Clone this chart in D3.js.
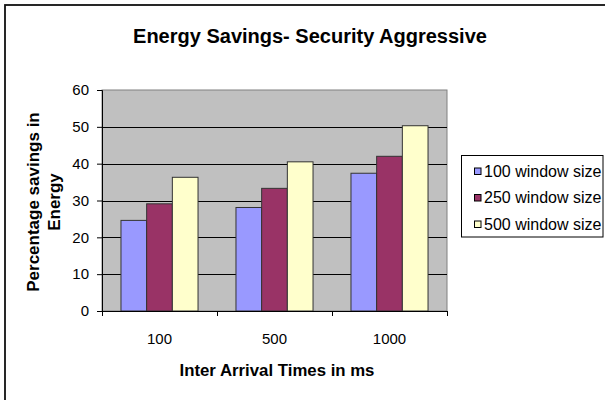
<!DOCTYPE html>
<html>
<head>
<meta charset="utf-8">
<script src="https://cdn.jsdelivr.net/npm/d3@7"></script>
<style>
  html, body { margin: 0; padding: 0; background: #fff; }
  svg { display: block; font-family: "Liberation Sans", Arial, sans-serif; }
</style>
</head>
<body>
<svg id="chart" width="605" height="400"></svg>
<script>
// Inter-arrival time categories (ms)
const categories = ["100", "500", "1000"];
// Series names
const seriesNames = ["100 window size", "250 window size", "500 window size"];
// Percentage savings per series, one value per category
const win100 = [24.6, 28.1, 37.4];
const win250 = [29.1, 33.3, 42.0];
const win500 = [36.3, 40.5, 50.3];
const seriesValues = [win100, win250, win500];
const yTicks = [0, 10, 20, 30, 40, 50, 60];
const colors = ["#9999FF", "#993366", "#FFFFCC"];

const svg = d3.select("#chart");

// Outer frame
svg.append("rect")
  .attr("x", 5).attr("y", 5)
  .attr("width", 620).attr("height", 420)
  .attr("fill", "#fff").attr("stroke", "#111").attr("stroke-width", 1.8);

const plot = { left: 102, right: 447, top: 90, bottom: 311 };

const x0 = d3.scaleBand()
  .domain(categories)
  .range([plot.left, plot.right])
  .paddingInner(0.33)
  .paddingOuter(0.165);

const x1 = d3.scaleBand()
  .domain(d3.range(seriesNames.length))
  .range([0, x0.bandwidth()]);

const y = d3.scaleLinear().domain([0, 60]).range([plot.bottom, plot.top]);

// Plot area background
svg.append("rect")
  .attr("x", plot.left).attr("y", plot.top)
  .attr("width", plot.right - plot.left).attr("height", plot.bottom - plot.top)
  .attr("fill", "#C0C0C0").attr("stroke", "#808080").attr("stroke-width", 1);

// Gridlines
svg.append("g").selectAll("line")
  .data(yTicks.filter(d => d > 0 && d < 60))
  .join("line")
  .attr("x1", plot.left).attr("x2", plot.right)
  .attr("y1", d => Math.round(y(d)) + 0.5).attr("y2", d => Math.round(y(d)) + 0.5)
  .attr("stroke", "#000").attr("stroke-width", 1);

// Bars
const groups = svg.append("g").selectAll("g")
  .data(categories)
  .join("g")
  .attr("transform", c => `translate(${x0(c)},0)`);

groups.selectAll("rect")
  .data((c, ci) => seriesValues.map((vals, si) => ({ si, v: vals[ci] })))
  .join("rect")
  .attr("x", d => x1(d.si))
  .attr("y", d => y(d.v))
  .attr("width", x1.bandwidth())
  .attr("height", d => y(0) - y(d.v))
  .attr("fill", d => colors[d.si])
  .attr("stroke", "#333").attr("stroke-width", 1);

// Y axis
const yAxis = svg.append("g")
  .attr("transform", `translate(${plot.left},0)`)
  .call(d3.axisLeft(y).tickValues(yTicks).tickSize(5).tickPadding(8));
yAxis.select(".domain").attr("stroke", "#000");
yAxis.selectAll(".tick line").attr("stroke", "#000");
yAxis.selectAll("text")
  .attr("font-size", 15).attr("fill", "#000")
  .attr("font-family", "Liberation Sans, Arial, sans-serif");

// X axis line with ticks at category boundaries
const xBound = d3.scaleLinear().domain([0, categories.length]).range([plot.left, plot.right]);
const xAxis = svg.append("g")
  .attr("transform", `translate(0,${plot.bottom})`)
  .call(d3.axisBottom(xBound).ticks(categories.length).tickSize(5).tickFormat(""));
xAxis.select(".domain").attr("stroke", "#000");
xAxis.selectAll(".tick line").attr("stroke", "#000");

// Category labels
svg.append("g").selectAll("text")
  .data(categories)
  .join("text")
  .attr("x", c => x0(c) + x0.bandwidth() / 2)
  .attr("y", 343.5)
  .attr("text-anchor", "middle")
  .attr("font-size", 15)
  .text(c => c);

// Title
svg.append("text")
  .attr("x", 310).attr("y", 43)
  .attr("text-anchor", "middle")
  .attr("font-size", 20).attr("font-weight", "bold")
  .text("Energy Savings- Security Aggressive");

// X axis title
svg.append("text")
  .attr("x", 277).attr("y", 376)
  .attr("text-anchor", "middle")
  .attr("font-size", 16.8).attr("font-weight", "bold")
  .text("Inter Arrival Times in ms");

// Y axis title (two lines)
const yTitle = svg.append("text")
  .attr("transform", "translate(38.5,202) rotate(-90)")
  .attr("text-anchor", "middle")
  .attr("font-size", 17).attr("font-weight", "bold");
yTitle.append("tspan").attr("x", 0).attr("dy", 0).text("Percentage savings in");
yTitle.append("tspan").attr("x", 0).attr("dy", 21.5).text("Energy");

// Legend
const legend = svg.append("g");
legend.append("rect")
  .attr("x", 461.5).attr("y", 155.5)
  .attr("width", 141.5).attr("height", 81.5)
  .attr("fill", "#fff").attr("stroke", "#000").attr("stroke-width", 1);
const items = legend.selectAll("g.item")
  .data(seriesNames)
  .join("g")
  .attr("class", "item")
  .attr("transform", (d, i) => `translate(474,${171 + i * 26.5})`);
items.append("rect")
  .attr("x", 0.5).attr("y", -3)
  .attr("width", 6.5).attr("height", 6.5)
  .attr("fill", (d, i) => colors[i]).attr("stroke", "#000").attr("stroke-width", 1);
items.append("text")
  .attr("x", 10).attr("y", 5.8)
  .attr("font-size", 16)
  .text(d => d);
</script>
</body>
</html>
